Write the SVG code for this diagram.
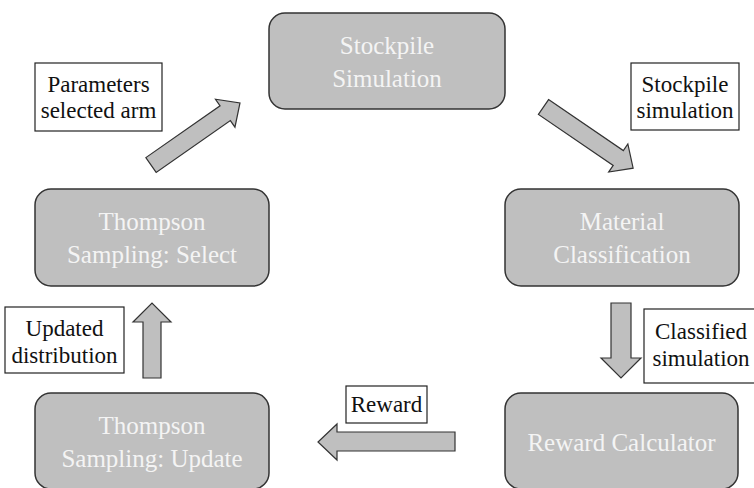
<svg xmlns="http://www.w3.org/2000/svg" width="754" height="488" viewBox="0 0 754 488">
<style>
.node rect{fill:#bfbfbf;stroke:#333;stroke-width:1.5}
.node text{font-family:"Liberation Serif","Times New Roman",serif;font-size:25px;fill:#f4f4f4;text-anchor:middle}
.arrow{fill:#bfbfbf;stroke:#333;stroke-width:1.2;stroke-linejoin:miter}
.lbl rect{fill:#fff;stroke:#222;stroke-width:1.2}
.lbl text{font-family:"Liberation Serif","Times New Roman",serif;font-size:23px;fill:#111;text-anchor:middle}
</style>
<rect width="754" height="488" fill="#fff"/>
<g id="connectors">
<polygon class="arrow" transform="translate(151,165) rotate(-34.9)" points="0,-9 90.5,-9 90.5,-17 108.5,0 90.5,17 90.5,9 0,9"/>
<polygon class="arrow" transform="translate(543.5,107) rotate(34.3)" points="0,-9 90.5,-9 90.5,-17 108.5,0 90.5,17 90.5,9 0,9"/>
<polygon class="arrow" points="611,303 631,303 631,358 641,358 621,378 601,358 611,358"/>
<polygon class="arrow" points="455,432 337,432 337,424 318,442 337,460 337,451 455,451"/>
<polygon class="arrow" points="143,378 143,322 133,322 152,303 171,322 161,322 161,378"/>
<g class="lbl" id="lbl-params"><rect x="35" y="63" width="127" height="68"/><text x="98.5" y="92">Parameters</text><text x="98.5" y="118">selected arm</text></g>
<g class="lbl" id="lbl-stock"><rect x="631" y="63" width="108" height="67"/><text x="685" y="92">Stockpile</text><text x="685" y="118">simulation</text></g>
<g class="lbl" id="lbl-class"><rect x="644" y="309" width="116" height="74"/><text x="701" y="339">Classified</text><text x="701" y="366">simulation</text></g>
<g class="lbl" id="lbl-reward"><rect x="346" y="386" width="81" height="37"/><text x="386.5" y="412">Reward</text></g>
<g class="lbl" id="lbl-updated"><rect x="5" y="307" width="119" height="66"/><text x="64.5" y="336">Updated</text><text x="64.5" y="363">distribution</text></g>
</g>
<g class="node" id="stockpile"><rect x="269" y="13" width="236" height="96" rx="16"/><text x="387" y="53.5">Stockpile</text><text x="387" y="86.5">Simulation</text></g>
<g class="node" id="material"><rect x="505" y="189" width="234" height="97" rx="16"/><text x="622" y="230">Material</text><text x="622" y="263">Classification</text></g>
<g class="node" id="reward"><rect x="505" y="393" width="233" height="96" rx="16"/><text x="621.5" y="451">Reward Calculator</text></g>
<g class="node" id="ts-update"><rect x="35" y="393" width="234" height="96" rx="16"/><text x="152" y="434">Thompson</text><text x="152" y="467">Sampling: Update</text></g>
<g class="node" id="ts-select"><rect x="35" y="189" width="234" height="97" rx="16"/><text x="152" y="230">Thompson</text><text x="152" y="263">Sampling: Select</text></g>
</svg>
